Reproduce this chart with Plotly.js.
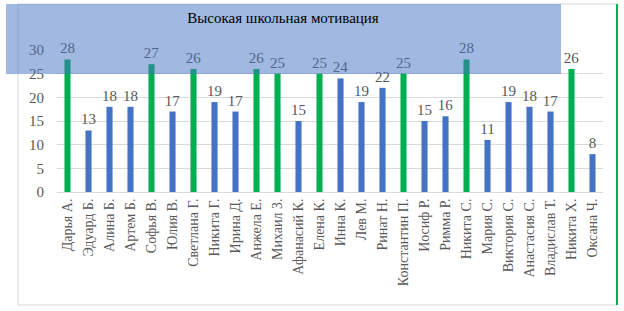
<!DOCTYPE html>
<html>
<head>
<meta charset="utf-8">
<script src="https://cdn.plot.ly/plotly-3.0.1.min.js"></script>
<style>html,body{margin:0;padding:0;background:#fff;}#chart{width:624px;height:311px;}</style>
</head>
<body>
<div id="chart"></div>
<script>
const names = ["Дарья А.","Эдуард Б.","Алина Б.","Артем Б.","Софья В.","Юлия В.","Светлана Г.","Никита Г.","Ирина Д.","Анжела Е.","Михаил З.","Афанасий К.","Елена К.","Инна К.","Лев М.","Ринат Н.","Константин П.","Иосиф Р.","Римма Р.","Никита С.","Мария С.","Виктория С.","Анастасия С.","Владислав Т.","Никита Х.","Оксана Ч."];
const scores = [28,13,18,18,27,17,26,19,17,26,25,15,25,24,19,22,25,15,16,28,11,19,18,17,26,8];
const highThreshold = 25;
const titleText = "Высокая школьная мотивация";
const yTicks = [0,5,10,15,20,25,30];

const colors = scores.map(v => v >= highThreshold ? "#00b050" : "#4472c4");
const serif = "'Liberation Serif', 'Times New Roman', serif";

// pixel helpers to paper coords
const L = 57, R = 603, T = 50, B = 192;
const px = x => (x - L) / (R - L);
const py = y => (B - y) / (B - T);

Plotly.newPlot("chart", [{
  type: "bar",
  x: names,
  y: scores,
  width: 0.29,
  marker: {color: colors},
  text: scores.map(String),
  textposition: "outside",
  constraintext: "none",
  textfont: {family: serif, size: 15, color: "#595959"},
  outsidetextfont: {family: serif, size: 15, color: "#595959"},
  cliponaxis: false,
  hoverinfo: "none"
}], {
  width: 624, height: 311,
  margin: {l: L, r: 624 - R, t: T, b: 311 - B},
  paper_bgcolor: "#fff", plot_bgcolor: "#fff",
  showlegend: false,
  font: {family: serif},
  title: {text: titleText, font: {family: serif, size: 15, color: "#000"},
          x: 283/624, xanchor: "center", xref: "container", y: 1 - 18/311, yanchor: "middle", yref: "container"},
  xaxis: {tickangle: -90, tickfont: {family: serif, size: 14, color: "#595959"},
          showline: true, linecolor: "#d9d9d9", linewidth: 1, ticks: "", fixedrange: true},
  yaxis: {range: [0, 30], tickvals: yTicks, tickfont: {family: serif, size: 15, color: "#595959"},
          gridcolor: "#d9d9d9", gridwidth: 1, zeroline: false, showline: false, ticks: "",
          ticklabelstandoff: 12, fixedrange: true},
  shapes: [
    {type: "rect", xref: "paper", yref: "paper", x0: px(18), x1: px(617), y0: py(305), y1: py(4),
     line: {color: "#d9d9d9", width: 1}, fillcolor: "rgba(0,0,0,0)", layer: "below"},
    {type: "line", xref: "paper", yref: "paper", x0: px(617), x1: px(617), y0: py(305), y1: py(4),
     line: {color: "#00b050", width: 2}},
    {type: "rect", xref: "paper", yref: "paper", x0: px(6), x1: px(561), y0: py(74), y1: py(4),
     line: {width: 0}, fillcolor: "rgba(68,114,196,0.5)", layer: "above"}
  ]
}, {staticPlot: true});
</script>
</body>
</html>
